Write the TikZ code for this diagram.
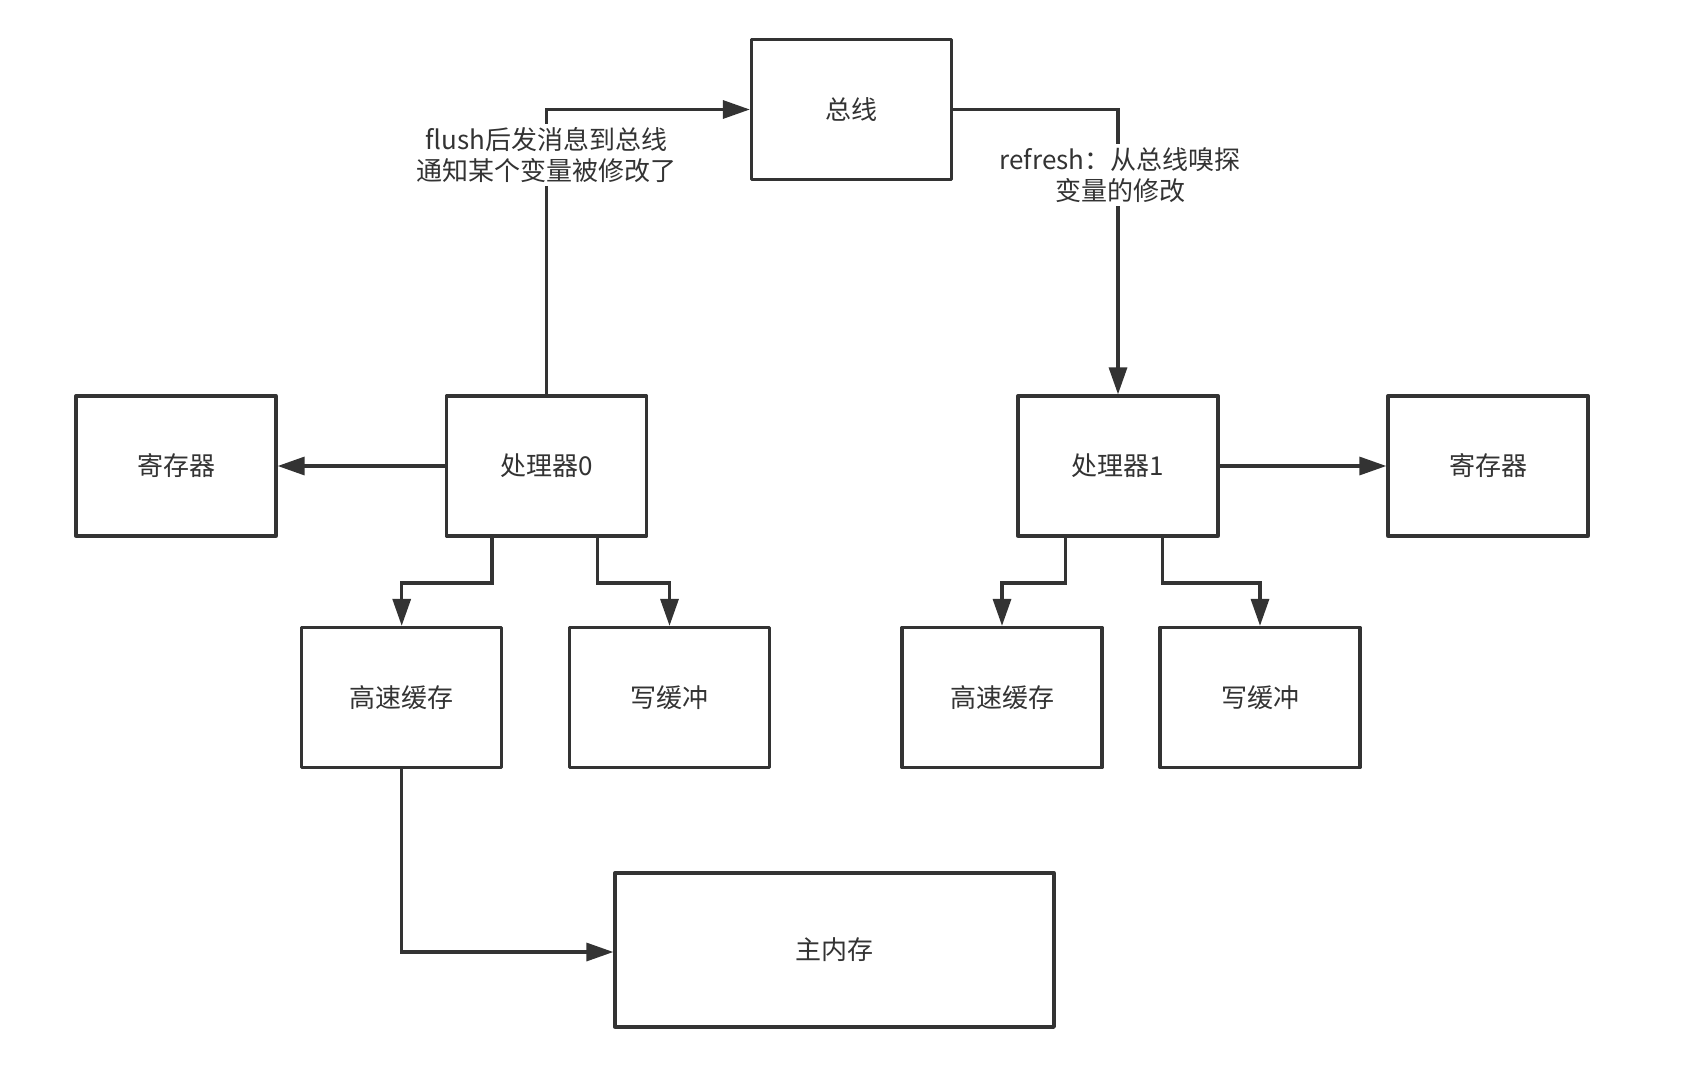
\documentclass[tikz,border=0pt]{standalone}
\usepackage{fontspec}
\newfontfamily\cjk{Noto Sans CJK SC}
\usetikzlibrary{arrows.meta}
\definecolor{ink}{HTML}{333333}
\tikzset{
  box/.style={draw=ink, line width=3.3pt, line join=round, rectangle, inner sep=0pt,
    minimum width=200pt, minimum height=140pt, font=\cjk\fontsize{26}{31}\selectfont, text=ink},
  conn/.style={draw=ink, line width=3.3pt, -{Triangle[length=27pt,width=18pt]}},
  lbl/.style={fill=white, inner sep=3pt, align=center, text=ink, font=\cjk\fontsize{26}{31}\selectfont}
}
\begin{document}
\begin{tikzpicture}[x=1pt,y=-1pt]
\useasboundingbox[fill=white] (0,0) rectangle (1704,1076);
\node[box] (bus) at (851.5,109.5) {总线};
\node[box] (reg0) at (176,466) {寄存器};
\node[box] (p0) at (546.5,466) {处理器0};
\node[box] (p1) at (1118,466) {处理器1};
\node[box] (reg1) at (1488,466) {寄存器};
\node[box] (c0) at (401.7,697.5) {高速缓存};
\node[box] (w0) at (669.5,697.5) {写缓冲};
\node[box] (c1) at (1002,697.5) {高速缓存};
\node[box] (w1) at (1260,697.5) {写缓冲};
\node[box, minimum width=439pt, minimum height=154pt] (mem) at (834.5,950) {主内存};

\draw[conn] (p0.north) |- (bus.west);
\draw[conn] (bus.east) -| (p1.north);
\draw[conn] (p0.west) -- (reg0.east);
\draw[conn] (p1.east) -- (reg1.west);
\draw[conn] ([xshift=-54.5pt]p0.south) -- ++(0,45.3) -| (c0.north);
\draw[conn] ([xshift=51.2pt]p0.south) -- ++(0,45.3) -| (w0.north);
\draw[conn] ([xshift=-52.3pt]p1.south) -- ++(0,45.3) -| (c1.north);
\draw[conn] ([xshift=44.7pt]p1.south) -- ++(0,45.3) -| (w1.north);
\draw[conn] (c0.south) |- ([yshift=-2pt]mem.west);

\node[lbl] (l0) at (546.5,155) {flush后发消息到总线\\通知某个变量被修改了};
\node[lbl] (l1) at (1120,175) {refresh：从总线嗅探\\变量的修改};
\end{tikzpicture}
\end{document}
